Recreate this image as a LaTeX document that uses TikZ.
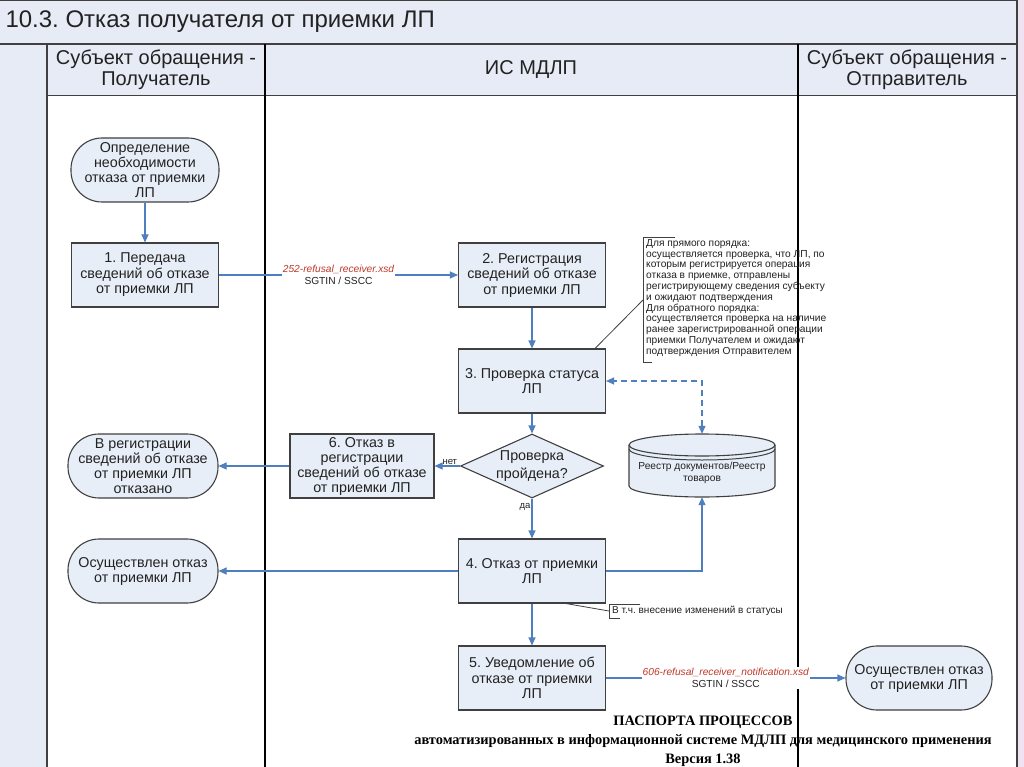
\documentclass[tikz,border=0pt]{standalone}
\usepackage{fontspec}
\setmainfont{Liberation Sans}
\newfontfamily\footserif{Liberation Serif}
\usetikzlibrary{arrows.meta,shapes.geometric,calc}
\frenchspacing
\definecolor{lanebg}{HTML}{E6EBF5}
\definecolor{boxfill}{HTML}{E8EEF8}
\definecolor{flowc}{HTML}{4F7FBF}
\definecolor{edgec}{HTML}{404040}
\definecolor{xsdred}{HTML}{C0392B}
\definecolor{pinkstrip}{HTML}{EFE3F1}
\definecolor{txt}{HTML}{222222}
\tikzset{
  procbox/.style={draw=edgec, line width=1.1pt, fill=boxfill, minimum width=147pt, minimum height=64pt,
    align=center, inner sep=0pt, text=txt, font=\fontsize{14.3}{15.5}\selectfont},
  term/.style={procbox, rounded corners=31pt, minimum width=148pt, font=\fontsize{14.3}{15}\selectfont},
  decision/.style={diamond, draw=edgec, line width=1.1pt, fill=boxfill, aspect=2.2, inner sep=0pt,
    minimum width=143pt, minimum height=64pt, align=center, text=txt, font=\fontsize{14.3}{18}\selectfont},
  flow/.style={draw=flowc, line width=1.1pt, -{Triangle[length=8pt,width=7pt]}},
  flowlbl/.style={fill=white, inner sep=1pt, align=center, text=txt, font=\fontsize{10.2}{12}\selectfont},
  smalllbl/.style={inner sep=1pt, text=txt, font=\fontsize{9.5}{11}\selectfont},
  callout/.style={draw=edgec, line width=0.8pt},
  lanetxt/.style={align=center, text=txt, font=\fontsize{20}{21}\selectfont},
  footer/.style={align=center, text=black, font=\footserif\bfseries\fontsize{14.4}{19}\selectfont}
}
\begin{document}
\begin{tikzpicture}[x=1pt,y=-1pt]
\useasboundingbox (0,0) rectangle (1024,767);
% backgrounds
\fill[white] (0,0) rectangle (1024,767);
\fill[lanebg] (0,0) rectangle (1017,44);
\fill[lanebg] (0,44) rectangle (47,767);
\fill[lanebg] (47,44) rectangle (1017,96);
\fill[pinkstrip] (1017,0) rectangle (1024,767);
% lines
\draw[edgec, line width=0.8pt] (0,0.5) -- (1017,0.5);
\draw[edgec, line width=1.8pt] (0,44) -- (1017,44);
\draw[edgec, line width=1pt] (47,96) -- (1017,96);
\draw[edgec, line width=1.5pt] (47,44) -- (47,767);
\draw[black, line width=2pt] (265,44) -- (265,767);
\draw[black, line width=2pt] (798,44) -- (798,767);
\draw[edgec, line width=1.5pt] (1017,0) -- (1017,767);
% title and lane headers
\node[anchor=west, text=txt, font=\fontsize{24}{25}\selectfont] (title) at (2,22) {10.3. Отказ получателя от приемки ЛП};
\node[lanetxt] (h1) at (156,70) {Субъект обращения -\\Получатель};
\node[lanetxt] (h2) at (531,70) {ИС МДЛП};
\node[lanetxt] (h3) at (907,70) {Субъект обращения -\\Отправитель};
% nodes
\node[term] (start) at (145,170) {Определение\\необходимости\\отказа от приемки\\ЛП};
\node[procbox] (b1) at (145,275) {1. Передача\\сведений об отказе\\от приемки ЛП};
\node[procbox] (b2) at (532,275) {2. Регистрация\\сведений об отказе\\от приемки ЛП};
\node[procbox] (b3) at (532,381) {3. Проверка статуса\\ЛП};
\node[decision] (d) at (532,466) {Проверка\\пройдена?};
\node[procbox, minimum width=144pt, font=\fontsize{14.3}{15}\selectfont] (b6) at (362,466) {6. Отказ в\\регистрации\\сведений об отказе\\от приемки ЛП};
\node[term, minimum width=150pt] (rej) at (143,466) {В регистрации\\сведений об отказе\\от приемки ЛП\\отказано};
\node[procbox] (b4) at (532,571) {4. Отказ от приемки\\ЛП};
\node[term, minimum width=150pt] (done1) at (143,571) {Осуществлен отказ\\от приемки ЛП};
\node[procbox] (b5) at (532,678) {5. Уведомление об\\отказе от приемки\\ЛП};
\node[term, minimum width=146pt] (done2) at (919,678) {Осуществлен отказ\\от приемки ЛП};
% database (cylinder drawn by hand)
\filldraw[draw=edgec, line width=1.1pt, fill=boxfill] (629,445) -- (629,486) arc (180:0:73 and 11) -- (775,445) arc (0:-180:73 and 11) -- cycle;
\draw[edgec, line width=1.1pt] (629,445) arc (180:0:73 and 11);
\draw[edgec, line width=1pt] (629,449) arc (180:0:73 and 11);
\node[draw=none, minimum width=146pt, minimum height=63pt, inner sep=0pt, align=center, text=txt,
  font=\fontsize{10.2}{12}\selectfont] (db) at (702,465.5) {\\[10pt]Реестр документов/Реестр\\товаров};
% connectors
\draw[flow] (start) -- (b1);
\draw[flow] (b1) -- node[flowlbl] {\textcolor{xsdred}{\itshape 252-refusal\_receiver.xsd}\\SGTIN / SSCC} (b2);
\draw[flow] (b2) -- (b3);
\draw[flow] (b3) -- (d);
\draw[flow] (d) -- node[smalllbl, above, pos=0.4] {нет} (b6);
\draw[flow] (b6) -- (rej);
\draw[flow] (d) -- node[smalllbl, left, pos=0.2] {да} (b4);
\draw[flow] (b4) -- (done1);
\draw[flow] (b4.east) -| (db.south);
\draw[flow, dashed, dash pattern=on 6pt off 4pt, {Triangle[length=8pt,width=7pt]}-{Triangle[length=8pt,width=7pt]}] (db.north) |- (b3.east);
\draw[flow] (b4) -- (b5);
\draw[flow] (b5) -- node[flowlbl] {\textcolor{xsdred}{\itshape 606-refusal\_receiver\_notification.xsd}\\SGTIN / SSCC} (done2);
% callout 1
\coordinate (c1) at (643,300);
\draw[callout] ($(b3.north east)+(-11,0)$) -- (c1);
\draw[callout] (675,237) -- (643,237) -- (643,362) -- (652,362);
\node[anchor=north west, align=left, inner sep=0pt, text=txt, font=\fontsize{10.2}{10.8}\selectfont] (note1) at (646,239)
{Для прямого порядка:\\осуществляется проверка, что ЛП, по\\которым регистрируется операция\\отказа в приемке, отправлены\\регистрирующему сведения субъекту\\и ожидают подтверждения\\Для обратного порядка:\\осуществляется проверка на наличие\\ранее зарегистрированной операции\\приемки Получателем и ожидают\\подтверждения Отправителем};
% callout 2
\coordinate (c2) at (609,611);
\draw[callout] ($(b4.south)+(34,0)$) -- (c2);
\draw[callout] (640,604) -- (609,604) -- (609,618) -- (620,618);
\node[anchor=west, inner sep=0pt, text=txt, font=\fontsize{10}{11}\selectfont] (note2) at (612,611) {В т.ч. внесение изменений в статусы};
% footer
\node[footer] (foot) at (703,741) {ПАСПОРТА ПРОЦЕССОВ\\автоматизированных в информационной системе МДЛП для медицинского применения\\Версия 1.38};
\end{tikzpicture}
\end{document}
